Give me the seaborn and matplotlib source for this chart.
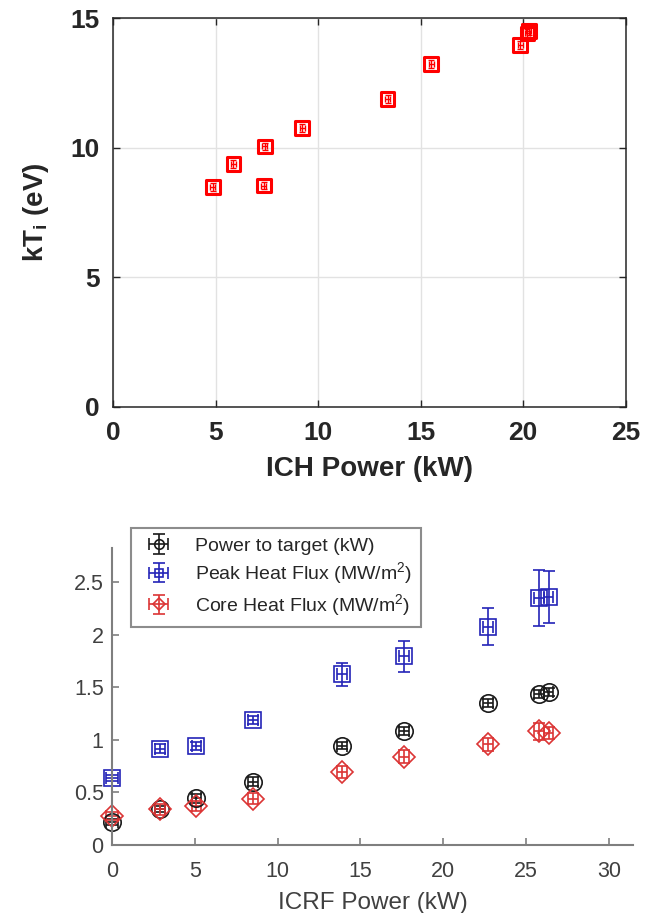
import numpy as np
import matplotlib
matplotlib.use("Agg")
import matplotlib.pyplot as plt
import seaborn as sns
import pandas as pd

# ---------------- data ----------------
# Top panel: ion temperature vs ICH power
ich_power = [4.85, 5.86, 7.35, 7.39, 9.22, 13.38, 15.51, 19.85, 20.20, 20.28]
kti = [8.48, 9.38, 8.54, 10.05, 10.76, 11.89, 13.24, 13.96, 14.42, 14.52]
ich_xerr = [0.12] * 10
kti_yerr = [0.15] * 10

# Bottom panel: heat fluxes vs ICRF power
icrf_power = [0.0, 2.9, 5.1, 8.5, 13.9, 17.6, 22.7, 25.75, 26.35]
icrf_xerr = [0.35, 0.3, 0.3, 0.3, 0.3, 0.3, 0.3, 0.3, 0.3]
power_target = [0.216, 0.34, 0.444, 0.603, 0.946, 1.086, 1.349, 1.435, 1.454]
power_target_err = [0.03, 0.03, 0.04, 0.04, 0.03, 0.04, 0.04, 0.04, 0.04]
peak_flux = [0.635, 0.917, 0.943, 1.19, 1.625, 1.794, 2.076, 2.35, 2.36]
peak_flux_err = [0.03, 0.04, 0.04, 0.04, 0.11, 0.145, 0.175, 0.27, 0.25]
core_flux = [0.276, 0.34, 0.371, 0.441, 0.695, 0.841, 0.959, 1.083, 1.067]
core_flux_err = [0.04, 0.05, 0.05, 0.05, 0.06, 0.06, 0.06, 0.08, 0.06]

top_xticks = [0, 5, 10, 15, 20, 25]
top_yticks = [0, 5, 10, 15]
bot_xticks = [0, 5, 10, 15, 20, 25, 30]
bot_yticks = [0, 0.5, 1, 1.5, 2, 2.5]
bot_yticklabels = ["0", "0.5", "1", "1.5", "2", "2.5"]
labels = ["Power to target (kW)", "Peak Heat Flux (MW/m$^2$)", "Core Heat Flux (MW/m$^2$)"]

# ---------------- style ----------------
sns.set_theme(style="white")
plt.rcParams["font.family"] = ["Liberation Sans", "DejaVu Sans"]
plt.rcParams["mathtext.fontset"] = "custom"
plt.rcParams["mathtext.rm"] = "Liberation Sans"
plt.rcParams["mathtext.bf"] = "Liberation Sans:bold"
plt.rcParams["mathtext.it"] = "Liberation Sans:italic"

fig = plt.figure(figsize=(6.66, 9.13), dpi=100)

# ---------------- top panel ----------------
ax1 = fig.add_axes([113.3 / 666, 1 - 406.7 / 913, (625.7 - 113.3) / 666, (406.7 - 18.3) / 913])
df_top = pd.DataFrame({"power": ich_power, "kti": kti})
ax1.errorbar(ich_power, kti, xerr=ich_xerr, yerr=kti_yerr, fmt="none",
             ecolor="#ff0000", elinewidth=1.0, capsize=2.2, capthick=1.0, zorder=3)
sns.scatterplot(data=df_top, x="power", y="kti", ax=ax1, marker="s", s=9.8 ** 2,
                facecolor="none", edgecolor="#ff0000", linewidth=2.2, zorder=4, legend=False)
ax1.set_xlim(0, 25)
ax1.set_ylim(0, 15)
ax1.set_xticks(top_xticks)
ax1.set_yticks(top_yticks)
ax1.grid(True, color="#e2e2e2", linewidth=1.0)
ax1.set_axisbelow(True)
for sp in ax1.spines.values():
    sp.set_visible(True)
    sp.set_color("#262626")
    sp.set_linewidth(1.1)
ax1.tick_params(direction="in", length=5, width=1.0, top=True, right=True,
                bottom=True, left=True, labelsize=19, colors="#262626", pad=10)
for t in ax1.get_xticklabels() + ax1.get_yticklabels():
    t.set_fontweight("bold")
ax1.set_xlabel("ICH Power (kW)", fontsize=20, fontweight="bold", color="#262626", labelpad=8)
ax1.set_ylabel(r"kT$_{\mathbf{i}}$ (eV)", fontsize=20, fontweight="bold", color="#262626", labelpad=14)

# ---------------- bottom panel ----------------
ax2 = fig.add_axes([112 / 666, 1 - 845 / 913, (633 - 112) / 666, (845 - 548) / 913])
series = [
    (power_target, power_target_err, "#1a1a1a", "o", 12.5, labels[0]),
    (peak_flux, peak_flux_err, "#2424b8", "s", 11, labels[1]),
    (core_flux, core_flux_err, "#dc3535", "D", 11, labels[2]),
]
handles = []
for yv, ye, col, mk, ms, lab in series:
    h = ax2.errorbar(icrf_power, yv, xerr=icrf_xerr, yerr=ye, fmt=mk, color=col,
                     mfc="none", mec=col, ms=ms, mew=1.2, ecolor=col, elinewidth=1.2,
                     capsize=4, capthick=1.2, label=lab)
    for art in h.get_children():
        art.set_clip_on(False)
    handles.append(h)
ax2.set_xlim(0, 31.45)
ax2.set_ylim(0, 2.826)
ax2.set_xticks(bot_xticks)
ax2.set_yticks(bot_yticks)
ax2.set_yticklabels(bot_yticklabels)
for s in ["top", "right"]:
    ax2.spines[s].set_visible(False)
for s in ["left", "bottom"]:
    ax2.spines[s].set_color("#7f7f7f")
    ax2.spines[s].set_linewidth(1.5)
ax2.tick_params(direction="in", length=5, width=1.2, colors="#7f7f7f",
                labelcolor="#404040", labelsize=15.5, bottom=True, left=True)
ax2.tick_params(axis="x", pad=11.5)
ax2.tick_params(axis="y", pad=6)
ax2.set_xlabel("ICRF Power (kW)", fontsize=17.5, color="#404040", labelpad=7)

leg = ax2.legend(handles=handles, labels=labels, loc="upper left",
                 bbox_to_anchor=(130.5 / 666, 1 - 528.3 / 913), bbox_transform=fig.transFigure,
                 fontsize=14, frameon=True, fancybox=False, borderaxespad=0,
                 borderpad=0.45, handlelength=2.0, handletextpad=0.85, labelspacing=0.3,
                 markerscale=0.55)
leg.get_frame().set_edgecolor("#707070")
leg.get_frame().set_linewidth(1.5)
for t in leg.get_texts():
    t.set_color("#262626")

fig.savefig("out.png", dpi=100)
